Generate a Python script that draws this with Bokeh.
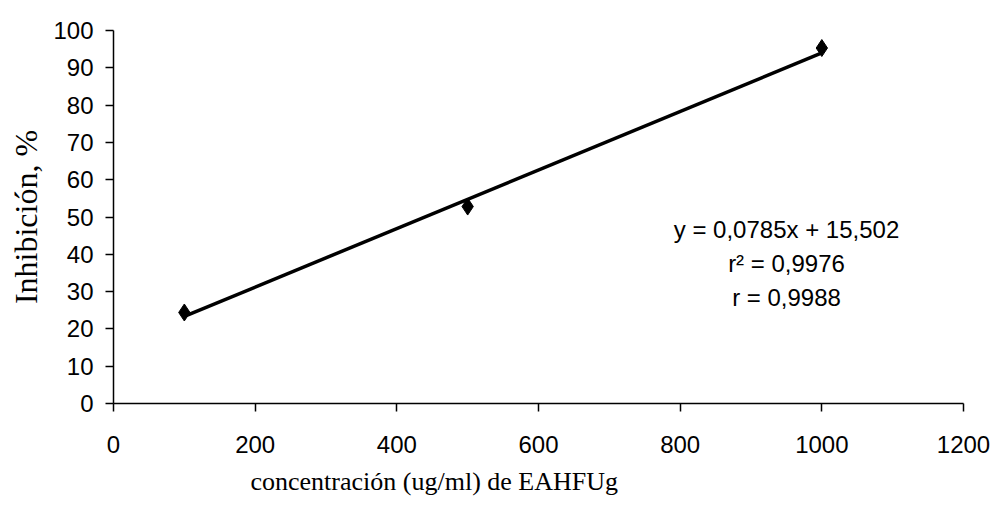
from bokeh.plotting import figure
from bokeh.models import Range1d, Label, FixedTicker, Title
from bokeh.embed import file_html
from bokeh.resources import INLINE

# data
conc = [100, 500, 1000]
inhib = [24.4, 52.8, 95.3]
slope = 0.0785
intercept = 15.502
x_ticks = [0, 200, 400, 600, 800, 1000, 1200]
y_ticks = [0, 10, 20, 30, 40, 50, 60, 70, 80, 90, 100]
eq_lines = ["y = 0,0785x + 15,502", "r\u00b2 = 0,9976", "r = 0,9988"]

fit_x = [min(conc), max(conc)]
fit_y = [slope * v + intercept for v in fit_x]

FL, FR, FT, FB = 113, 963, 30, 403  # frame edges in canvas px

p = figure(width=998, height=509, output_backend="svg", toolbar_location=None,
           x_range=Range1d(0, 1200), y_range=Range1d(0, 100),
           min_border_left=FL, min_border_right=998 - FR, min_border_top=FT,
           min_border_bottom=509 - FB)
p.outline_line_color = None
p.xgrid.visible = False
p.ygrid.visible = False

p.line(fit_x, fit_y, line_color="black", line_width=3.5)
p.scatter(conc, inhib, marker="diamond", size=17, color="black")

for ax, ticks in ((p.xaxis, x_ticks), (p.yaxis, y_ticks)):
    ax.ticker = FixedTicker(ticks=ticks)
    ax.major_label_text_font = "Liberation Sans"
    ax.major_label_text_font_size = "24px"
    ax.major_label_text_color = "black"
    ax.axis_line_color = "black"
    ax.axis_line_width = 1.5
    ax.major_tick_line_color = "black"
    ax.major_tick_line_width = 1.5
    ax.major_tick_in = 0
    ax.major_tick_out = 8
    ax.minor_tick_line_color = None

p.xaxis.major_label_standoff = 24
p.yaxis.major_label_standoff = 12

# y axis title
p.yaxis.axis_label = "Inhibición, %"
p.yaxis.axis_label_text_font = "Liberation Serif"
p.yaxis.axis_label_text_font_style = "normal"
p.yaxis.axis_label_text_font_size = "32px"
p.yaxis.axis_label_text_color = "black"
p.yaxis.axis_label_standoff = 6

# x axis title (offset to the left like the reference)
p.add_layout(Title(text="concentración (ug/ml) de EAHFUg", align="left", offset=137,
                   text_font="Liberation Serif", text_font_size="26px",
                   text_font_style="normal", text_color="black", standoff=19), "below")

ys = [229, 263, 297]
for t, yy in zip(eq_lines, ys):
    p.add_layout(Label(x=786 - FL, y=FB - yy, x_units="screen", y_units="screen",
                       text=t, text_font="Liberation Sans", text_font_size="24px",
                       text_align="center", text_baseline="middle", text_color="black"))

open("out.html", "w").write(file_html(p, INLINE))
